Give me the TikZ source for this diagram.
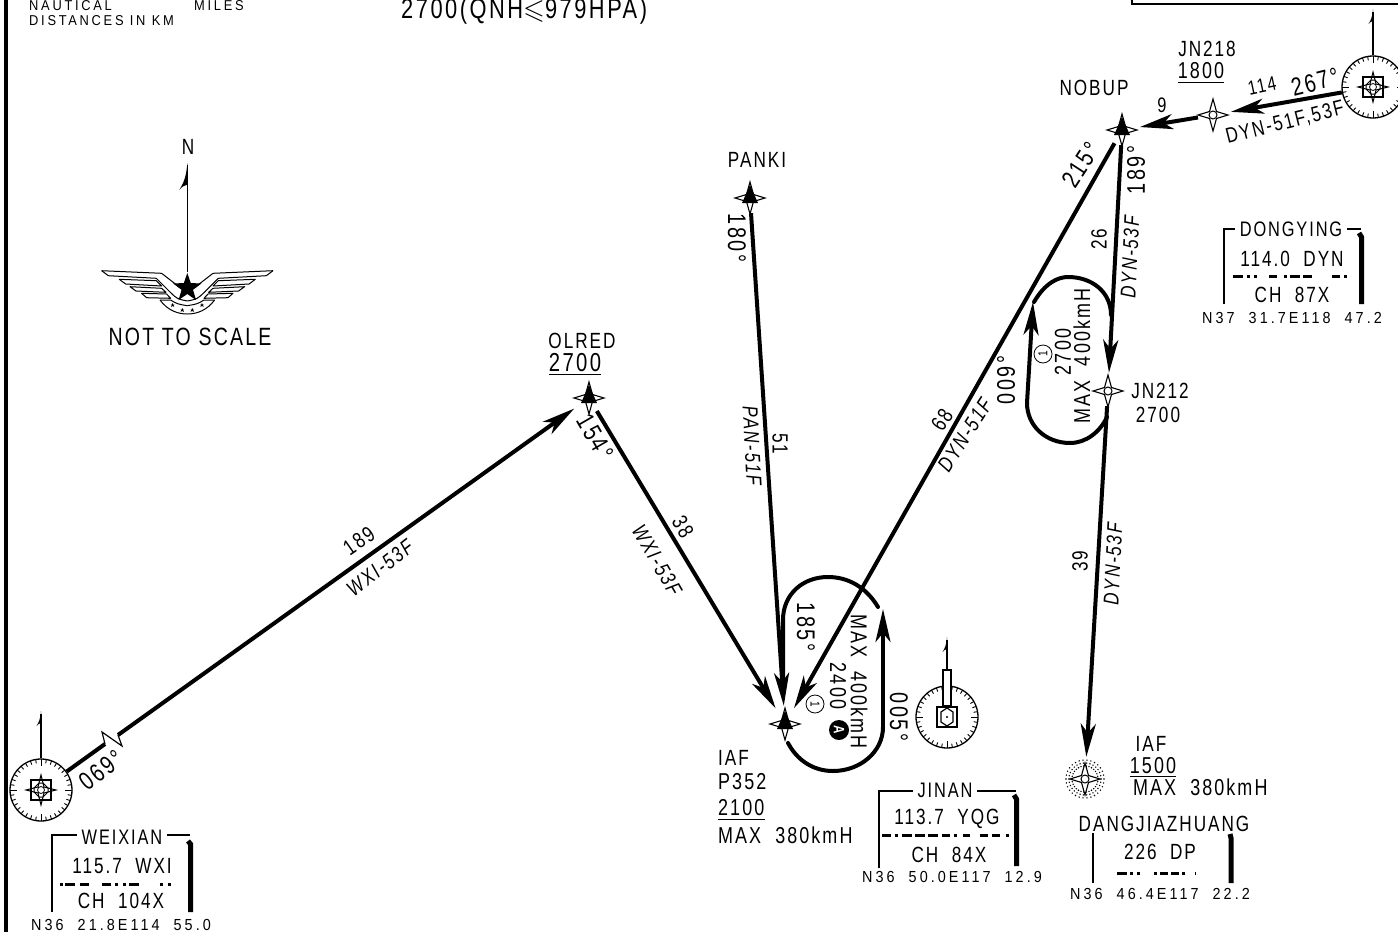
\documentclass[tikz,border=0pt]{standalone}
\usepackage{amssymb}
\usepackage{fontspec}
\setmainfont{Liberation Sans}[FakeStretch=0.78,LetterSpace=9]
\newfontfamily\widefont{Liberation Sans}[FakeStretch=0.9,LetterSpace=19]
\usetikzlibrary{arrows.meta,shapes.geometric}

\tikzset{
    txt/.style={inner sep=0pt,font=\fontsize{22pt}{22pt}\selectfont},
    midtxt/.style={inner sep=0pt,font=\fontsize{22pt}{22pt}\selectfont},
    bigtxt/.style={inner sep=0pt,font=\fontsize{23pt}{23pt}\selectfont},
    tracktxt/.style={inner sep=0pt,font=\fontsize{25.5pt}{25.5pt}\selectfont},
    smalltxt/.style={inner sep=0pt,font=\widefont\fontsize{16pt}{16pt}\selectfont},
    tinytxt/.style={inner sep=0pt,font=\widefont\fontsize{14.3pt}{14.3pt}\selectfont},
    legtxt/.style={inner sep=0pt,font=\fontsize{21.5pt}{21.5pt}\selectfont\itshape},
    fixnode/.style={circle,minimum size=30pt,inner sep=0pt},
    dialnode/.style={circle,draw,line width=1.3pt,minimum size=62pt,inner sep=0pt},
    leg/.style={line width=4pt},
    legarrow/.style={line width=4pt,-{Stealth[length=33pt,width=15pt,inset=9pt]},shorten >=3pt},
    hold/.style={line width=4pt,line cap=round},
    morse/.style={line width=3pt},
    boxside/.style={line width=1.2pt},
    boxthick/.style={line width=5pt}
}

% Four pointed star of a fix
\newcommand{\fixstar}[2]{
    \node[fixnode] (#1) at (#2) {};
    \draw[line width=1.1pt,fill=white,shift={(#2)}] (-15,0) -- (-3.5,-3.5) -- (0,-16) -- (3.5,-3.5) -- (15,0) -- (3.5,3.5) -- (0,16) -- (-3.5,3.5) -- cycle;
}
% Same star with the black triangle in it
\newcommand{\fixtri}[2]{
    \fixstar{#1}{#2}
    \fill[shift={(#2)}] (0,-13) -- (8,5) -- (-8,5) -- cycle;
}
% Dial with its ticks
\newcommand{\dial}[2]{
    \node[dialnode,fill=white] (#1) at (#2) {};
    \foreach \a in {0,10,...,350}
        \draw[line width=0.9pt,shift={(#2)}] (\a:31) -- (\a:27);
    \foreach \a in {0,90,180,270}
        \draw[line width=0.9pt,shift={(#2)}] (\a:31) -- (\a:24);
}
% Square with star and rings at the centre of a dial
\newcommand{\vorsign}[1]{
    \draw[line width=1.8pt,shift={(#1)}] (-10,-10) rectangle (10,10);
    \draw[line width=1pt,shift={(#1)}] (-15,0) -- (-3,-3) -- (0,-15) -- (3,-3) -- (15,0) -- (3,3) -- (0,15) -- (-3,3) -- cycle;
    \draw[line width=1pt,shift={(#1)}] (-7,-2) -- (-2,-7) -- (2,-7) -- (7,-2) -- (7,2) -- (2,7) -- (-2,7) -- (-7,2) -- cycle;
    \draw[line width=0.8pt,shift={(#1)}] (0,0) circle (3.5);
}
% Barb at the top of a north line
\newcommand{\northbarb}[2]{
    \fill[shift={(#1)},scale=#2] (0,0) .. controls (-0.5,8) and (-2.5,12) .. (-4.5,15) .. controls (-3,13) and (-1.5,12.5) .. (0,12) -- cycle;
}

\begin{document}
\begin{tikzpicture}[x=1pt,y=-1pt]
    \clip (0,0) rectangle (1398,932);

    % Frame at the left and box at the top
    \draw[line width=4.5pt] (6,0) -- (6,932);
    \draw[line width=1.3pt] (1132,0) -- (1132,4) -- (1398,4);

    % Header
    \node[tinytxt,anchor=west] (hdrnaut) at (29,6) {NAUTICAL};
    \node[tinytxt,anchor=west] (hdrmiles) at (194,6) {MILES};
    \node[tinytxt,anchor=west] (hdrdist) at (29,21) {DISTANCES\ IN\ KM};
    \node[inner sep=0pt,font=\fontsize{28pt}{28pt}\selectfont,anchor=west] (hdrqnh) at (401,11) {2700(QNH$\leqslant$979HPA)};

    % North sign and emblem
    \node[midtxt] (northlbl) at (188,147) {N};
    \node[star,star points=5,star point ratio=2.5,fill=black,minimum size=30pt,inner sep=0pt] (emblem) at (187.3,288) {};
    \coordinate (northtip) at (187.3,165);
    \draw[line width=1.2pt] (emblem) -- (northtip);
    \northbarb{187.3,163}{1.8}
    \foreach \s in {1,-1} {
        \begin{scope}[shift={(187.3,0)},xscale=\s,line width=1pt,line join=round]
            \draw (-85.7,270.7) -- (-25.7,273.3) -- (-8,287);
            \draw (-85.7,270.7) -- (-79,275.7) -- (-31,278.3) -- (-17.3,292) .. controls (-10,299) .. (0,301);
            \draw (-68,279.3) -- (-31,280.7) -- (-25.7,286) -- (-61.7,284) -- cycle;
            \draw (-57.3,286.7) -- (-25.7,288.3) -- (-21.3,292.3) -- (-51.3,291) -- cycle;
            \draw (-45.7,293.3) -- (-20.7,294) -- (-16.7,298.3) -- (-40.7,297.7) -- cycle;
            \draw (-27.3,300) -- (-16.7,300) .. controls (-10,304) .. (0,305.7);
            \draw (-27.3,300) .. controls (-20,310) and (-10,314) .. (0,314);
            \fill (-14.7,303) -- (-13,307) -- (-16.6,304.6) -- (-12.8,304.6) -- (-16.4,307) -- cycle;
            \fill (-5,308) -- (-3.3,312) -- (-6.9,309.6) -- (-3.1,309.6) -- (-6.7,312) -- cycle;
        \end{scope}
    }
    \node[inner sep=0pt,font=\fontsize{25pt}{25pt}\selectfont] (scalelbl) at (190,337) {NOT\ TO\ SCALE};

    % Navaids
    \dial{weixian}{41,790}
    \vorsign{41,790}
    \dial{dongying}{1373,87}
    \vorsign{1373,87}
    \dial{jinan}{947,717}
    \draw[line width=1.3pt,fill=white] (943,670) rectangle (951,706);
    \draw[line width=1.8pt] (937,707) rectangle (957,727);
    \draw[line width=1.2pt] (941,712) -- (947,708) -- (953,712) -- (953,722) -- (947,726) -- (941,722) -- cycle;
    \fill (947,717) circle (1.2);

    % North lines of the navaids
    \coordinate (weixiantip) at (41,714);
    \draw[line width=1.2pt] (weixian) -- (weixiantip);
    \northbarb{41,711}{1}
    \coordinate (dongyingtip) at (1373,12);
    \draw[line width=1.2pt] (dongying) -- (dongyingtip);
    \northbarb{1373,9}{1}
    \coordinate (jinantip) at (947,640);
    \draw[line width=1.2pt] (947,670) -- (jinantip);
    \northbarb{947,637}{1}

    % Fixes
    \fixtri{panki}{750,198}
    \fixtri{olred}{589,398}
    \fixtri{pthree}{785,724}
    \fixtri{nobup}{1122,130}
    \fixstar{jntwoeight}{1213,115}
    \draw[line width=1pt] (jntwoeight) circle (4);
    \fixstar{jntwotwo}{1108,391}
    \draw[line width=1pt] (jntwotwo) circle (4);
    \foreach \r in {19,16,13}
        \foreach \a in {0,12,...,348}
            \fill (1085,779) ++(\a:\r) circle (0.8);
    \fixstar{dangjia}{1085,779}
    \draw[line width=1pt] (dangjia) circle (4);

    % Legs
    \coordinate (breakone) at (105,744);
    \coordinate (breaktwo) at (118,735);
    \draw[leg] (weixian) -- (breakone);
    \draw[line width=1.2pt] (breakone) -- (102,732) -- (122,746) -- (breaktwo);
    \draw[legarrow] (breaktwo) -- (olred);
    \draw[legarrow] (olred) -- (pthree);
    \draw[legarrow] (panki) -- (pthree);
    \draw[legarrow] (nobup) -- (pthree);
    \draw[legarrow] (nobup) -- (jntwotwo);
    \draw[legarrow,shorten >=7pt] (jntwotwo) -- (dangjia);
    \draw[legarrow] (dongying) -- (jntwoeight);
    \draw[legarrow] (jntwoeight) -- (nobup);

    % Holding at JN212
    \draw[hold] (1034,302) .. controls (1045,283) and (1058,277) .. (1068,277) .. controls (1092,277) and (1111,292) .. (1111,315);
    \draw[hold,-{Stealth[length=33pt,width=15pt,inset=9pt]}] (1027,403) -- (1033,302);
    \draw[hold] (1027,403) .. controls (1027,426) and (1046,443) .. (1070,443) .. controls (1086,443) and (1100,432) .. (1107,417);

    % Holding at P352
    \draw[hold] (878,607) .. controls (866,587) and (848,577) .. (828,577) .. controls (803,577) and (783,594) .. (783,620) -- (783,680);
    \draw[hold,-{Stealth[length=33pt,width=15pt,inset=9pt]}] (883,727) -- (883,609);
    \draw[hold] (883,727) .. controls (883,752) and (860,771) .. (833,771) .. controls (813,771) and (797,760) .. (788,743);

    % Leg labels
    \node[tracktxt,rotate=38] (tracksw) at (101,770) {069°};
    \node[midtxt,rotate=35] (distsw) at (359,541) {189};
    \node[legtxt,rotate=38] (namesw) at (380,568) {WXI-53F};
    \node[tracktxt,rotate=-60] (trackol) at (595,437) {154°};
    \node[midtxt,rotate=-60] (distol) at (683,527) {38};
    \node[legtxt,rotate=-60] (nameol) at (657,560) {WXI-53F};
    \node[tracktxt,rotate=-90] (trackpa) at (737,238) {180°};
    \node[midtxt,rotate=-90] (distpa) at (780,444) {51};
    \node[legtxt,rotate=-87] (namepa) at (752,446) {PAN-51F};
    \node[midtxt,rotate=57] (distdy) at (942,420) {68};
    \node[legtxt,rotate=57] (namedy) at (965,435) {DYN-51F};
    \node[tracktxt,rotate=57] (trackno) at (1081,165) {215°};
    \node[tracktxt,rotate=90] (trackjn) at (1136,170) {189°};
    \node[midtxt,rotate=90] (distjn) at (1099,239) {26};
    \node[legtxt,rotate=87] (namejn) at (1130,257) {DYN-53F};
    \node[midtxt,rotate=90] (distdp) at (1080,561) {39};
    \node[legtxt,rotate=87] (namedp) at (1113,564) {DYN-53F};
    \node[inner sep=0pt,font=\fontsize{21pt}{21pt}\selectfont] (distnine) at (1162,105) {9};
    \node[inner sep=0pt,font=\fontsize{20pt}{20pt}\selectfont,rotate=12] (distdg) at (1262,86) {114};
    \node[tracktxt,rotate=14] (trackdg) at (1315,82) {267°};
    \node[inner sep=0pt,font=\fontsize{21.5pt}{21.5pt}\selectfont,rotate=14] (namedg) at (1285,123) {DYN-51F,53F};

    % Labels of the holdings
    \node[tracktxt,rotate=-90] (inbpt) at (806,627) {185°};
    \node[tracktxt,rotate=-90] (outpt) at (899,717) {005°};
    \node[bigtxt,rotate=-90] (maxpt) at (859,681.5) {MAX\ \ 400kmH};
    \node[bigtxt,rotate=-90] (altpt) at (838,686) {2400};
    \node[circle,fill=black,minimum size=20pt,inner sep=0pt,text=white,rotate=-90,font=\fontsize{15pt}{15pt}\selectfont\bfseries] (markpt) at (839,730) {A};
    \node[circle,draw,line width=0.8pt,minimum size=18pt,inner sep=0pt,rotate=-90,font=\fontsize{13pt}{13pt}\selectfont] (turnpt) at (815,704) {1};
    \node[tracktxt,rotate=90] (outjn) at (1006,380) {009°};
    \node[bigtxt,rotate=90] (maxjn) at (1082,356) {MAX\ \ 400kmH};
    \node[bigtxt,rotate=90] (altjn) at (1063,352) {2700};
    \node[circle,draw,line width=0.8pt,minimum size=18pt,inner sep=0pt,rotate=90,font=\fontsize{13pt}{13pt}\selectfont] (turnjn) at (1043,354) {1};

    % Names of the fixes
    \node[midtxt] (pankilbl) at (757,160) {PANKI};
    \node[midtxt] (olredlbl) at (582,341) {OLRED};
    \node[inner sep=0pt,font=\fontsize{26pt}{26pt}\selectfont] (olredalt) at (575,363) {2700};
    \draw[line width=1.3pt] ([yshift=-2pt]olredalt.south west) -- ([yshift=-2pt]olredalt.south east);
    \node[midtxt] (nobuplbl) at (1094,88) {NOBUP};
    \node[txt] (jneightlbl) at (1207,49) {JN218};
    \node[inner sep=0pt,font=\fontsize{23pt}{23pt}\selectfont] (jneightalt) at (1201,71) {1800};
    \draw[line width=1.3pt] ([yshift=-3pt]jneightalt.south west) -- ([yshift=-3pt]jneightalt.south east);
    \node[txt] (jntwolbl) at (1160,391) {JN212};
    \node[txt] (jntwoalt) at (1158,415) {2700};
    \node[txt,anchor=west] (iafone) at (718,758) {IAF};
    \node[bigtxt,anchor=west] (ptlbl) at (718,782) {P352};
    \node[inner sep=0pt,font=\fontsize{23pt}{23pt}\selectfont,anchor=west] (ptalt) at (718,808) {2100};
    \draw[line width=1.3pt] ([yshift=-3pt]ptalt.south west) -- ([yshift=-3pt]ptalt.south east);
    \node[inner sep=0pt,font=\fontsize{23pt}{23pt}\selectfont,anchor=west] (ptmax) at (718,835) {MAX\ \ 380kmH};
    \node[txt] (iaftwo) at (1151,744) {IAF};
    \node[inner sep=0pt,font=\fontsize{23pt}{23pt}\selectfont] (dpalt) at (1153,766) {1500};
    \draw[line width=1.3pt] ([yshift=-2pt]dpalt.south west) -- ([yshift=-2pt]dpalt.south east);
    \node[inner sep=0pt,font=\fontsize{23pt}{23pt}\selectfont,anchor=west] (dpmax) at (1133,787) {MAX\ \ 380kmH};

    % WEIXIAN box
    \draw[boxside] (52,912) -- (52,835) -- (190,835);
    \draw[boxthick] (188,841) -- (190.5,844) -- (190.5,912);
    \node[txt,font=\fontsize{21pt}{21pt}\selectfont,fill=white,inner xsep=5pt] (wxititle) at (122,837) {WEIXIAN};
    \node[txt] (wxifreq) at (122,866) {115.7\ \ WXI};
    \draw[morse,dash pattern=on 3pt off 2.5pt on 10pt off 5pt on 9pt off 13pt on 9pt off 4pt on 3pt off 5pt on 3pt off 3pt on 9.5pt off 21pt on 3pt off 5pt on 3pt] (59.5,884) -- (172,884);
    \node[txt] (wxich) at (121,901) {CH\ \ 104X};
    \node[smalltxt] (wxipos) at (121,925) {N36\ \ 21.8E114\ \ 55.0};

    % JINAN box
    \draw[boxside] (879,868) -- (879,791) -- (1016,791);
    \draw[boxthick] (1014,795) -- (1016.5,799) -- (1016.5,866);
    \node[txt,font=\fontsize{21pt}{21pt}\selectfont,fill=white,inner xsep=5pt] (yqgtitle) at (945,790) {JINAN};
    \node[txt] (yqgfreq) at (947,819) {113.7\ \ YQG};
    \draw[morse,dash pattern=on 9pt off 4.5pt on 3pt off 3.5pt on 10pt off 3.3pt on 10pt off 3pt on 10.3pt off 3.4pt on 8.3pt off 3.5pt on 3pt off 6.8pt on 6.7pt off 10pt on 8.3pt off 3.4pt on 8.3pt off 5.8pt on 3pt] (881.7,835) -- (1009,835);
    \node[txt] (yqgch) at (949,855) {CH\ \ 84X};
    \node[smalltxt] (yqgpos) at (952,877) {N36\ \ 50.0E117\ \ 12.9};

    % DONGYING box
    \draw[boxside] (1224,304) -- (1224,229) -- (1361,229);
    \draw[boxthick] (1359,233) -- (1361.5,237) -- (1361.5,304);
    \node[txt,font=\fontsize{21pt}{21pt}\selectfont,fill=white,inner xsep=5pt] (dyntitle) at (1291,229) {DONGYING};
    \node[txt] (dynfreq) at (1292,259) {114.0\ \ DYN};
    \draw[morse,dash pattern=on 10.3pt off 3.5pt on 3pt off 4pt on 3pt off 12.8pt on 8pt off 6.2pt on 3pt off 3.5pt on 10pt off 3pt on 8.7pt off 20pt on 8.3pt off 4.2pt on 3pt] (1232.7,276.5) -- (1347.5,276.5);
    \node[txt] (dynch) at (1292,295) {CH\ \ 87X};
    \node[smalltxt] (dynpos) at (1292,318) {N37\ \ 31.7E118\ \ 47.2};

    % DANGJIAZHUANG box
    \draw[boxside] (1093,833) -- (1093,883);
    \draw[boxthick] (1230,834) -- (1231,838) -- (1231,883);
    \node[midtxt] (dptitle) at (1164,824) {DANGJIAZHUANG};
    \node[txt] (dpfreq) at (1160,852) {226\ \ DP};
    \draw[morse,dash pattern=on 10pt off 3pt on 3pt off 4pt on 3pt off 14pt on 3pt off 3pt on 8pt off 3pt on 8pt off 3pt on 3pt] (1117,873) -- (1196,873);
    \node[smalltxt] (dppos) at (1160,894) {N36\ \ 46.4E117\ \ 22.2};
\end{tikzpicture}
\end{document}
